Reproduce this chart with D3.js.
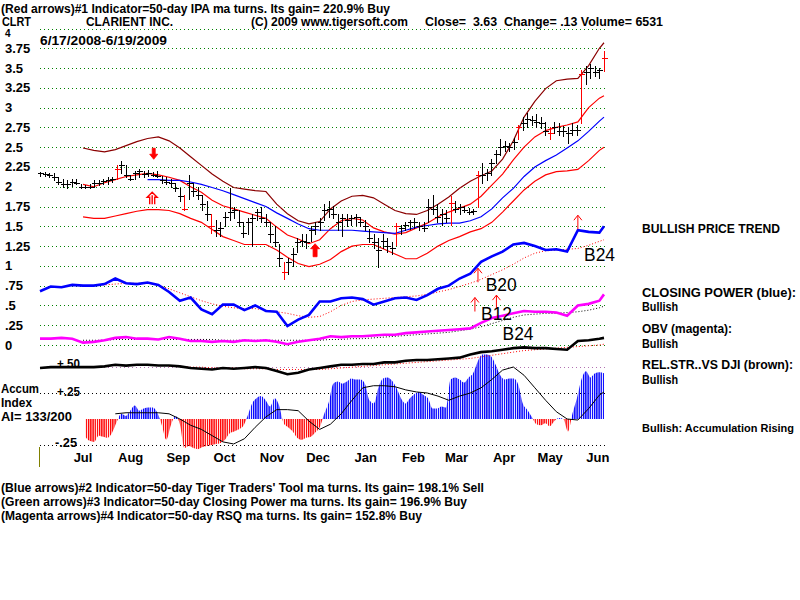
<!DOCTYPE html>
<html><head><meta charset="utf-8">
<script src="https://cdnjs.cloudflare.com/ajax/libs/d3/7.8.5/d3.min.js"></script>
<style>
body{margin:0;background:#fff}
svg{display:block}
text{font-family:"Liberation Sans",Arial,sans-serif;font-weight:bold;fill:#000;white-space:pre}
</style>
</head><body>
<svg id="c" width="800" height="600"></svg>
<script>
// ---------------- DATA ----------------
const startDate = "2008-06-17", endDate = "2009-06-19";
const priceTicks = [4,3.75,3.5,3.25,3,2.75,2.5,2.25,2,1.75,1.5,1.25,1,0.75,0.5,0.25,0];
const priceTickLabels = ["4","3.75","3.5","3.25","3","2.75","2.5","2.25","2","1.75","1.5","1.25","1",".75",".5",".25","0"];
const monthLabels = ["Jul","Aug","Sep","Oct","Nov","Dec","Jan","Feb","Mar","Apr","May","Jun"];
const monthDates = ["2008-07-15","2008-08-15","2008-09-15","2008-10-15","2008-11-15","2008-12-15","2009-01-15","2009-02-15","2009-03-15","2009-04-15","2009-05-15","2009-06-15"];

// price bars (every 2nd session)
const barHigh = [2.19,2.19,2.18,2.17,2.12,2.1,2.08,2.1,2.1,2.04,
2.02,2.03,2.08,2.08,2.1,2.12,2.12,2.27,2.32,2.28,
2.15,2.2,2.22,2.2,2.21,2.19,2.2,2.13,2.12,2.1,
2.05,1.98,1.9,2.15,2.05,2.0,1.9,1.82,1.65,1.58,
1.55,1.68,1.98,1.75,1.7,1.55,1.6,1.65,1.72,1.75,
1.65,1.56,1.5,1.28,1.05,1.1,1.22,1.35,1.4,1.4,
1.5,1.55,1.6,1.78,1.82,1.76,1.66,1.65,1.65,1.64,
1.66,1.62,1.58,1.46,1.4,1.35,1.4,1.35,1.3,1.54,
1.52,1.56,1.58,1.6,1.55,1.55,1.85,1.9,1.78,1.72,
1.7,1.88,1.82,1.78,1.76,1.73,1.72,2.2,2.3,2.22,
2.35,2.47,2.6,2.58,2.55,2.62,2.78,2.88,2.93,2.9,
2.92,2.88,2.82,2.75,2.82,2.8,2.77,2.75,2.8,2.78,
3.48,3.52,3.55,3.52,3.5,3.71];
const barLow = [2.14,2.13,2.12,2.08,2.03,2.0,1.98,2.01,2.03,1.98,
1.98,1.98,2.0,2.02,2.03,2.04,2.06,2.1,2.18,2.12,
2.08,2.1,2.12,2.12,2.13,2.13,2.12,2.05,2.03,2.0,
1.95,1.82,1.7,1.85,1.88,1.85,1.7,1.58,1.42,1.38,
1.38,1.5,1.58,1.6,1.5,1.36,1.4,1.25,1.58,1.55,
1.5,1.3,1.25,1.0,0.84,0.9,1.0,1.18,1.25,1.22,
1.32,1.4,1.45,1.58,1.62,1.6,1.45,1.38,1.5,1.52,
1.52,1.5,1.45,1.3,1.22,0.99,1.22,1.18,1.15,1.27,
1.4,1.45,1.46,1.48,1.45,1.44,1.55,1.65,1.55,1.52,
1.55,1.52,1.68,1.66,1.68,1.65,1.66,1.75,2.05,2.08,
2.15,2.3,2.4,2.45,2.45,2.48,2.6,2.72,2.75,2.78,
2.76,2.74,2.65,2.6,2.68,2.65,2.64,2.55,2.65,2.66,
2.8,3.3,3.38,3.4,3.38,3.46];
const barClose = [2.17,2.16,2.15,2.12,2.06,2.04,2.03,2.06,2.05,2.0,
2.0,2.0,2.05,2.05,2.07,2.09,2.1,2.22,2.27,2.15,
2.1,2.18,2.2,2.16,2.18,2.15,2.14,2.08,2.06,2.05,
1.98,1.88,1.72,2.05,1.95,1.9,1.78,1.65,1.5,1.45,
1.48,1.62,1.68,1.7,1.55,1.42,1.55,1.6,1.68,1.6,
1.55,1.4,1.3,1.1,0.92,1.05,1.15,1.3,1.32,1.3,
1.45,1.5,1.55,1.7,1.72,1.65,1.55,1.6,1.58,1.6,
1.62,1.55,1.5,1.35,1.3,1.2,1.32,1.25,1.22,1.5,
1.48,1.52,1.55,1.55,1.5,1.48,1.75,1.72,1.62,1.65,
1.6,1.8,1.72,1.74,1.7,1.68,1.69,2.15,2.15,2.18,
2.3,2.42,2.5,2.52,2.5,2.56,2.75,2.8,2.85,2.84,
2.82,2.8,2.7,2.68,2.75,2.7,2.7,2.68,2.72,2.72,
3.42,3.45,3.5,3.45,3.48,3.63];
const redBars = [17,32,38,54,79,91,97,106,113,120,125];

// weekly samples (start + 7k days, last = end date)
const upperBand = [null,null,null,null,2.49,2.46,2.44,2.47,2.52,2.57,2.61,2.63,2.58,2.49,2.38,2.27,2.16,2.07,1.99,1.97,1.95,1.94,1.78,1.66,1.57,1.53,1.56,1.72,1.82,1.88,1.89,1.86,1.78,1.7,1.66,1.65,1.7,1.78,1.87,1.98,2.07,2.14,2.2,2.35,2.58,2.88,3.08,3.24,3.34,3.36,3.37,3.53,3.75,3.82];
const midBand = [null,null,null,null,2.03,2.0,2.05,2.09,2.13,2.15,2.17,2.15,2.12,2.08,2.0,1.93,1.83,1.76,1.72,1.68,1.64,1.6,1.49,1.39,1.34,1.28,1.33,1.47,1.57,1.6,1.58,1.48,1.43,1.4,1.42,1.48,1.54,1.62,1.68,1.73,1.78,1.88,2.02,2.16,2.34,2.5,2.63,2.71,2.75,2.78,2.82,3.0,3.12,3.15];
const maBlue = [null,null,null,null,null,null,null,null,null,null,2.09,2.09,2.08,2.08,2.06,2.03,1.99,1.95,1.9,1.85,1.8,1.75,1.67,1.6,1.53,1.47,1.45,1.45,1.45,1.45,1.44,1.43,1.42,1.41,1.45,1.49,1.51,1.53,1.54,1.54,1.57,1.62,1.72,1.86,1.98,2.13,2.25,2.33,2.4,2.49,2.58,2.7,2.83,2.88];
const lowerBand = [null,null,null,null,1.62,1.6,1.6,1.63,1.66,1.69,1.71,1.71,1.7,1.66,1.6,1.55,1.46,1.37,1.32,1.27,1.27,1.27,1.2,1.11,1.03,0.99,1.02,1.08,1.18,1.25,1.27,1.27,1.21,1.15,1.09,1.09,1.16,1.25,1.32,1.37,1.43,1.47,1.55,1.68,1.82,1.96,2.07,2.15,2.19,2.2,2.22,2.33,2.46,2.5];
const closingPower = [0.68,0.74,0.73,0.76,0.75,0.75,0.77,0.84,0.78,0.77,0.79,0.76,0.67,0.56,0.6,0.45,0.39,0.51,0.51,0.44,0.5,0.43,0.42,0.24,0.32,0.38,0.55,0.55,0.59,0.6,0.58,0.51,0.55,0.59,0.6,0.57,0.63,0.71,0.75,0.84,0.9,1.05,1.12,1.18,1.27,1.29,1.25,1.2,1.21,1.18,1.45,1.43,1.42,1.5];
const closingPowerMA = [null,null,null,null,null,0.75,0.76,0.77,0.78,0.78,0.78,0.76,0.71,0.66,0.61,0.56,0.52,0.49,0.47,0.46,0.46,0.44,0.42,0.4,0.37,0.35,0.36,0.42,0.5,0.55,0.57,0.58,0.59,0.6,0.61,0.62,0.64,0.67,0.7,0.74,0.78,0.83,0.89,0.95,1.02,1.1,1.16,1.19,1.2,1.21,1.22,1.26,1.31,1.33];
const obv = [0.08,0.08,0.09,0.08,0.03,0.04,0.06,0.09,0.1,0.08,0.08,0.07,0.1,0.08,0.05,0.05,0.04,0.05,0.04,0.06,0.05,0.06,0.04,0.01,0.04,0.06,0.08,0.11,0.1,0.11,0.11,0.12,0.13,0.13,0.15,0.16,0.17,0.18,0.19,0.2,0.21,0.28,0.34,0.37,0.4,0.43,0.42,0.42,0.41,0.37,0.5,0.52,0.56,0.64];
const obvMA = [null,null,null,null,0.06,0.06,0.06,0.07,0.07,0.07,0.07,0.07,0.07,0.07,0.07,0.07,0.07,0.06,0.06,0.06,0.06,0.06,0.06,0.06,0.06,0.06,0.06,0.07,0.07,0.08,0.08,0.09,0.1,0.11,0.12,0.13,0.14,0.15,0.16,0.18,0.2,0.23,0.27,0.31,0.35,0.38,0.39,0.4,0.4,0.41,0.42,0.44,0.47,0.49];
const relStrength = [-0.29,-0.28,-0.28,-0.28,-0.28,-0.28,-0.27,-0.25,-0.26,-0.25,-0.25,-0.26,-0.26,-0.27,-0.29,-0.3,-0.31,-0.29,-0.3,-0.29,-0.28,-0.29,-0.33,-0.37,-0.35,-0.31,-0.29,-0.27,-0.25,-0.25,-0.24,-0.24,-0.22,-0.22,-0.2,-0.19,-0.19,-0.18,-0.17,-0.16,-0.12,-0.09,-0.08,-0.06,-0.04,-0.03,-0.04,-0.04,-0.05,-0.06,0.05,0.06,0.08,0.09];
const relStrengthMA = [null,null,null,null,null,null,null,null,null,null,null,null,-0.27,-0.27,-0.28,-0.28,-0.29,-0.29,-0.29,-0.3,-0.3,-0.3,-0.31,-0.31,-0.31,-0.31,-0.31,-0.3,-0.29,-0.28,-0.27,-0.26,-0.25,-0.24,-0.23,-0.22,-0.21,-0.2,-0.19,-0.18,-0.17,-0.15,-0.13,-0.11,-0.09,-0.07,-0.06,-0.05,-0.04,-0.03,-0.02,-0.01,0.0,0.01];
const accumMA = [null,null,null,null,null,null,null,0.05,0.06,0.06,0.06,0.06,0.05,0.0,-0.06,-0.1,-0.16,-0.22,-0.24,-0.19,-0.08,0.02,0.09,0.09,0.08,-0.02,-0.1,-0.05,0.05,0.18,0.3,0.32,0.32,0.31,0.28,0.26,0.25,0.22,0.18,0.22,0.25,0.3,0.38,0.47,0.5,0.42,0.3,0.18,0.07,0.0,-0.01,0.1,0.23,0.26];
// accumulation index, same sessions as the price bars
const accum = [null,null,null,null,null,null,null,null,null,null,
-0.17,-0.21,-0.22,-0.16,-0.17,-0.18,-0.13,-0.03,0.05,0.03,
0.08,0.13,0.08,0.1,0.11,0.11,0.06,-0.06,-0.2,-0.06,
0.03,-0.05,-0.28,-0.26,-0.28,-0.29,-0.27,-0.26,-0.25,-0.24,
-0.23,-0.2,-0.14,-0.12,-0.1,-0.07,0.03,0.15,0.2,0.22,
0.18,0.12,0.2,0.13,-0.04,-0.08,-0.12,-0.18,-0.2,-0.18,
-0.17,-0.13,-0.08,0.05,0.16,0.34,0.36,0.34,0.36,0.39,
0.38,0.38,0.34,0.18,0.15,0.3,0.39,0.4,0.37,0.3,
0.2,0.15,0.2,0.24,0.26,0.23,0.2,0.1,0.1,0.12,
0.11,0.38,0.4,0.38,0.35,0.4,0.44,0.55,0.62,0.62,
0.6,0.52,0.42,0.38,0.39,0.39,0.33,0.15,0.09,0.02,
-0.05,-0.06,-0.04,-0.07,-0.02,0.01,0.0,-0.12,0.05,0.2,
0.38,0.46,0.4,0.44,0.45,0.44];

// signal arrows: date, value (tip), kind
const bigArrows = [
  {date:"2008-08-30", v:2.36, kind:"down"},
  {date:"2008-08-29", v:1.93, kind:"double"},
  {date:"2008-12-13", v:1.28, kind:"up"}
];
const thinArrows = [
  {date:"2009-03-29", v:0.97},
  {date:"2009-03-27", v:0.60},
  {date:"2009-04-10", v:0.63},
  {date:"2009-06-02", v:1.64}
];
const signalLabels = [
  {t:"B24", date:"2009-06-06", v:1.06},
  {t:"B20", date:"2009-04-03", v:0.68},
  {t:"B12", date:"2009-03-31", v:0.32},
  {t:"B24", date:"2009-04-14", v:0.06}
];

// ---------------- DRAW ----------------
const svg = d3.select("#c");
const parse = d3.timeParse("%Y-%m-%d");
const t0 = parse(startDate), t1 = parse(endDate);
const x = d3.scaleTime().domain([t0, t1]).range([40, 604]);
const weekDates = d3.range(53).map(k => d3.timeDay.offset(t0, 7 * k)).concat([t1]);
const xb = d3.scaleLinear().domain([0, barHigh.length - 1]).range([x(t0), x(t1)]);
const y = d3.scaleLinear().domain([0, 4]).range([345, 28.5]);
const ya = d3.scaleLinear().domain([-0.25, 0.25]).range([445, 393]);

function T(s, px, py, o = {}) {
  const t = svg.append("text").attr("x", px).attr("y", py).text(s)
    .style("font-size", (o.size || 12.5) + "px");
  if (o.weight) t.style("font-weight", o.weight);
  if (o.len) t.attr("textLength", o.len).attr("lengthAdjust", "spacingAndGlyphs");
  if (o.anchor) t.attr("text-anchor", o.anchor);
  return t;
}

// gridlines
svg.append("g").selectAll("line").data(priceTicks).join("line")
  .attr("x1", 40).attr("x2", 605)
  .attr("y1", d => Math.round(y(d)) + 0.5).attr("y2", d => Math.round(y(d)) + 0.5)
  .attr("stroke", "#008000").attr("stroke-dasharray", "1,3");

// accum reference lines
[[0.5, "#b070b0"], [0.25, "#000"], [-0.25, "#000"]].forEach(([v, c]) => {
  svg.append("line").attr("x1", 40).attr("x2", 605)
    .attr("y1", Math.round(ya(v)) + 0.5).attr("y2", Math.round(ya(v)) + 0.5)
    .attr("stroke", c).attr("stroke-dasharray", "1,3");
});

// price labels
priceTicks.forEach((v, i) => {
  T(priceTickLabels[i], 5, i === 0 ? y(v) + 8 : y(v) + 4.5, {size: i === 0 ? 10 : 13});
});

// accum stripe patterns
const defs = svg.append("defs");
[["stripeBlue", "#0000ff"], ["stripeRed", "#ff0000"]].forEach(([id, c]) => {
  const p = defs.append("pattern").attr("id", id).attr("patternUnits", "userSpaceOnUse")
    .attr("width", 2.2).attr("height", 20);
  p.append("rect").attr("x", 0).attr("y", 0).attr("width", 1.35).attr("height", 20).attr("fill", c);
});
defs.append("clipPath").attr("id", "clipPos").append("rect")
  .attr("x", 0).attr("y", 300).attr("width", 800).attr("height", ya(0) - 300);
defs.append("clipPath").attr("id", "clipNeg").append("rect")
  .attr("x", 0).attr("y", ya(0)).attr("width", 800).attr("height", 100);

const accArea = d3.area().defined(d => d != null)
  .x((d, i) => xb(i)).y0(ya(0)).y1(d => ya(d)).curve(d3.curveMonotoneX);
svg.append("path").datum(accum).attr("d", accArea).attr("fill", "url(#stripeBlue)").attr("clip-path", "url(#clipPos)");
svg.append("path").datum(accum).attr("d", accArea).attr("fill", "url(#stripeRed)").attr("clip-path", "url(#clipNeg)");

const wline = (yy) => d3.line().defined(d => d != null).x((d, i) => x(weekDates[i])).y(d => yy(d));

// accum MA
svg.append("path").datum(accumMA).attr("d", wline(ya)).attr("fill", "none").attr("stroke", "#000").attr("stroke-width", 1);

// bands
svg.append("path").datum(upperBand).attr("d", wline(y)).attr("fill", "none").attr("stroke", "#8b0000").attr("stroke-width", 1.2);
svg.append("path").datum(lowerBand).attr("d", wline(y)).attr("fill", "none").attr("stroke", "#ff0000").attr("stroke-width", 1.2);
svg.append("path").datum(midBand).attr("d", wline(y)).attr("fill", "none").attr("stroke", "#ff0000").attr("stroke-width", 1.2);
svg.append("path").datum(maBlue).attr("d", wline(y)).attr("fill", "none").attr("stroke", "#0000ff").attr("stroke-width", 1.2);

// indicator MAs (dotted)
svg.append("path").datum(closingPowerMA).attr("d", wline(y)).attr("fill", "none").attr("stroke", "#ff0000").attr("stroke-dasharray", "1,2");
svg.append("path").datum(obvMA).attr("d", wline(y)).attr("fill", "none").attr("stroke", "#000").attr("stroke-dasharray", "1,2");
svg.append("path").datum(relStrengthMA).attr("d", wline(y)).attr("fill", "none").attr("stroke", "#ff0000").attr("stroke-dasharray", "1,2");

// indicator lines
svg.append("path").datum(closingPower).attr("d", wline(y)).attr("fill", "none").attr("stroke", "#0000ff").attr("stroke-width", 2.6);
svg.append("path").datum(obv).attr("d", wline(y)).attr("fill", "none").attr("stroke", "#ff00ff").attr("stroke-width", 2.6);
svg.append("path").datum(relStrength).attr("d", wline(y)).attr("fill", "none").attr("stroke", "#000").attr("stroke-width", 2.6);

// price bars
const redSet = new Set(redBars);
const gb = svg.append("g").attr("shape-rendering", "crispEdges");
barHigh.forEach((h, i) => {
  const c = redSet.has(i) ? "#ff0000" : "#000";
  const bx = Math.round(xb(i)) + 0.5;
  gb.append("line").attr("x1", bx).attr("x2", bx).attr("y1", y(h)).attr("y2", y(barLow[i]) + 1).attr("stroke", c);
  const cy = Math.round(y(barClose[i])) + 0.5;
  gb.append("line").attr("x1", bx - 2.5).attr("x2", bx + 3).attr("y1", cy).attr("y2", cy).attr("stroke", c);
});

// big arrows
bigArrows.forEach(a => {
  const ax = x(parse(a.date)), ay = y(a.v);
  let d;
  if (a.kind === "down") d = `M${ax-1.5},${ay-10}h3v6h2.5l-4,5l-4,-5h2.5z`;
  else if (a.kind === "up") d = `M${ax-2},${ay+13}h4v-8h2.5l-4.5,-5l-4.5,5h2.5z`;
  else d = `M${ax-2.5},${ay+12}v-7h-2.5l5,-5l5,5h-2.5v7M${ax},${ay+12}v-9`;
  svg.append("path").attr("d", d)
    .attr("fill", a.kind === "double" ? "none" : "#ff0000")
    .attr("stroke", "#ff0000").attr("stroke-width", a.kind === "double" ? 1.4 : 0.8);
});
thinArrows.forEach(a => {
  const ax = x(parse(a.date)), ay = y(a.v);
  svg.append("path").attr("d", `M${ax},${ay+14}V${ay}M${ax-4},${ay+5}L${ax},${ay}L${ax+4},${ay+5}`)
    .attr("fill", "none").attr("stroke", "#ff0000").attr("stroke-width", 1);
});
signalLabels.forEach(s => {
  T(s.t, x(parse(s.date)), y(s.v), {size: 17.5, weight: "normal", len: 31});
});

// month labels
monthLabels.forEach((m, i) => {
  T(m, x(parse(monthDates[i])), 462, {size: 13, anchor: "middle"});
});

// accum labels
T("+.50", 57, 368, {size: 12.5, len: 23});
T("+.25", 57, 396, {size: 12.5, len: 23});
T("-.25", 55, 447, {size: 12.5, len: 22});
T("Accum", 1, 393, {len: 38});
T("Index", 1, 407, {len: 31});
T("AI= 133/200", 1, 421, {len: 71});
svg.append("line").attr("x1", 39.5).attr("x2", 39.5).attr("y1", 447).attr("y2", 467).attr("stroke", "#808000");

// header
T("(Red arrows)#1 Indicator=50-day IPA ma turns. Its gain= 220.9% Buy", 1, 13, {len: 389});
T("CLRT", 2, 26, {len: 29});
T("CLARIENT INC.", 86, 26, {len: 87});
T("(C) 2009 www.tigersoft.com", 251, 26, {len: 157});
T("Close=  3.63  Change= .13 Volume= 6531", 425, 26, {len: 238});
T("6/17/2008-6/19/2009", 40, 45, {len: 127});

// right side
T("BULLISH PRICE TREND", 642, 233, {len: 138});
T("CLOSING POWER (blue):", 642, 297, {len: 154});
T("Bullish", 642, 311, {len: 36});
T("OBV (magenta):", 642, 333, {len: 90});
T("Bullish", 642, 348, {len: 36});
T("REL.STR..VS DJI (brown):", 642, 369, {len: 151});
T("Bullish", 642, 384, {len: 36});
T("Bullish: Accumulation Rising", 642, 432, {len: 152, size: 11});

// footer
T("(Blue arrows)#2 Indicator=50-day Tiger Traders' Tool ma turns. Its gain= 198.1% Sell", 1, 492, {len: 483});
T("(Green arrows)#3 Indicator=50-day Closing Power ma turns. Its gain= 196.9% Buy", 1, 506, {len: 466});
T("(Magenta arrows)#4 Indicator=50-day RSQ ma turns. Its gain= 152.8% Buy", 1, 520, {len: 421});
</script>
</body></html>
